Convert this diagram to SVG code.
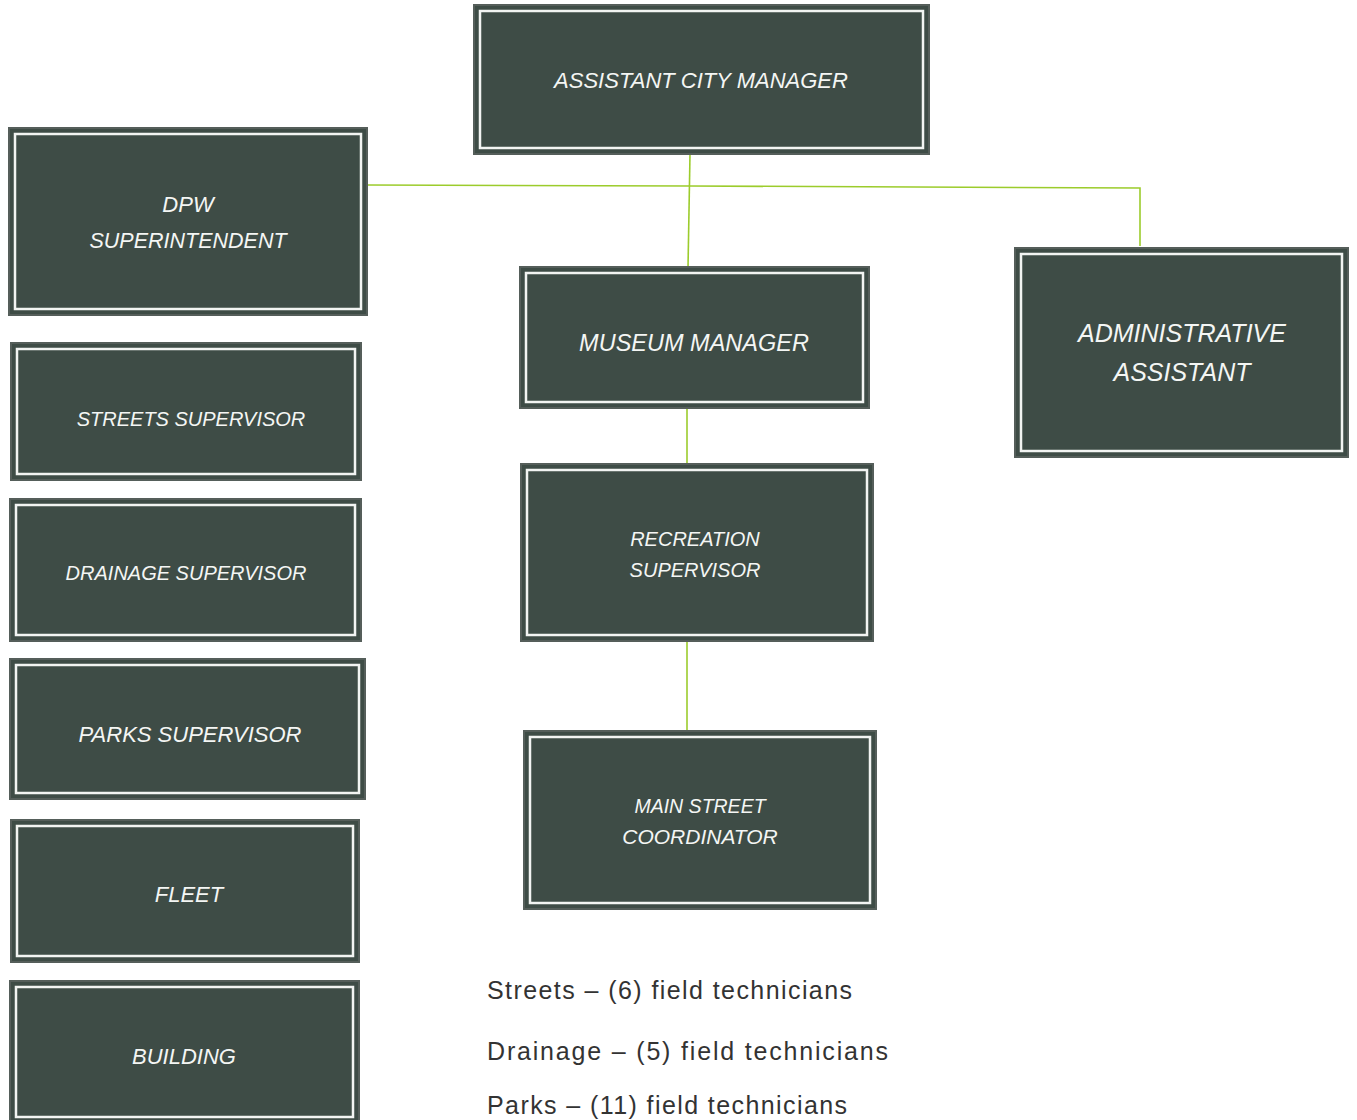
<svg xmlns="http://www.w3.org/2000/svg" width="1357" height="1120" viewBox="0 0 1357 1120">
<style>
.box{fill:#3e4c46;stroke:#555e5a;stroke-width:2}
.inner{fill:none;stroke:#f2f4f2;stroke-width:2.5}
.t{font-family:"Liberation Sans",Arial,sans-serif;font-style:italic;fill:#f4f6f4;text-anchor:middle}
.c{stroke:#9ccc2c;stroke-width:1.6;fill:none}
.note{font-family:"Liberation Sans",Arial,sans-serif;fill:#333;font-size:25px}
</style>
<rect width="1357" height="1120" fill="#fff"/>
<g id="connectors">
<polyline class="c" points="367,185 690,186 1140,188 1140,246"/>
<line class="c" x1="690" y1="154" x2="688" y2="268"/>
<line class="c" x1="687" y1="408" x2="687" y2="465"/>
<line class="c" x1="687" y1="641" x2="687" y2="732"/>
</g>
<g id="n-acm"><rect class="box" x="474" y="5" width="455" height="149"/><rect class="inner" x="480" y="11" width="443" height="137"/><text class="t" x="701" y="88" font-size="22">ASSISTANT CITY MANAGER</text></g>
<g id="n-dpw"><rect class="box" x="9" y="128" width="358" height="187"/><rect class="inner" x="15" y="134" width="346" height="175"/><text class="t" x="188" y="212" font-size="22">DPW</text><text class="t" x="188" y="248" font-size="21.5">SUPERINTENDENT</text></g>
<g id="n-streets"><rect class="box" x="11" y="343" width="350" height="137"/><rect class="inner" x="17" y="349" width="338" height="125"/><text class="t" x="191" y="426" font-size="20">STREETS SUPERVISOR</text></g>
<g id="n-drainage"><rect class="box" x="10" y="499" width="351" height="142"/><rect class="inner" x="16" y="505" width="339" height="130"/><text class="t" x="186" y="580" font-size="20">DRAINAGE SUPERVISOR</text></g>
<g id="n-parks"><rect class="box" x="10" y="659" width="355" height="140"/><rect class="inner" x="16" y="665" width="343" height="128"/><text class="t" x="190" y="742" font-size="22">PARKS SUPERVISOR</text></g>
<g id="n-fleet"><rect class="box" x="11" y="820" width="348" height="142"/><rect class="inner" x="17" y="826" width="336" height="130"/><text class="t" x="189" y="902" font-size="22">FLEET</text></g>
<g id="n-building"><rect class="box" x="10" y="981" width="349" height="145"/><rect class="inner" x="16" y="987" width="337" height="130"/><text class="t" x="184" y="1064" font-size="22">BUILDING</text></g>
<g id="n-museum"><rect class="box" x="520" y="267" width="349" height="141"/><rect class="inner" x="526" y="273" width="337" height="129"/><text class="t" x="694" y="351" font-size="23.5">MUSEUM MANAGER</text></g>
<g id="n-recreation"><rect class="box" x="521" y="464" width="352" height="177"/><rect class="inner" x="527" y="470" width="340" height="165"/><text class="t" x="695" y="546" font-size="20">RECREATION</text><text class="t" x="695" y="577" font-size="20">SUPERVISOR</text></g>
<g id="n-mainstreet"><rect class="box" x="524" y="731" width="352" height="178"/><rect class="inner" x="530" y="737" width="340" height="166"/><text class="t" x="700" y="813" font-size="19.5">MAIN STREET</text><text class="t" x="700" y="844" font-size="21">COORDINATOR</text></g>
<g id="n-admin"><rect class="box" x="1015" y="248" width="333" height="209"/><rect class="inner" x="1021" y="254" width="321" height="197"/><text class="t" x="1182" y="342" font-size="25">ADMINISTRATIVE</text><text class="t" x="1182" y="381" font-size="25">ASSISTANT</text></g>
<g id="notes">
<text class="note" x="487" y="999" textLength="365" lengthAdjust="spacing">Streets – (6) field technicians</text>
<text class="note" x="487" y="1060" textLength="401" lengthAdjust="spacing">Drainage – (5) field technicians</text>
<text class="note" x="487" y="1114" textLength="360" lengthAdjust="spacing">Parks – (11) field technicians</text>
</g>
</svg>
